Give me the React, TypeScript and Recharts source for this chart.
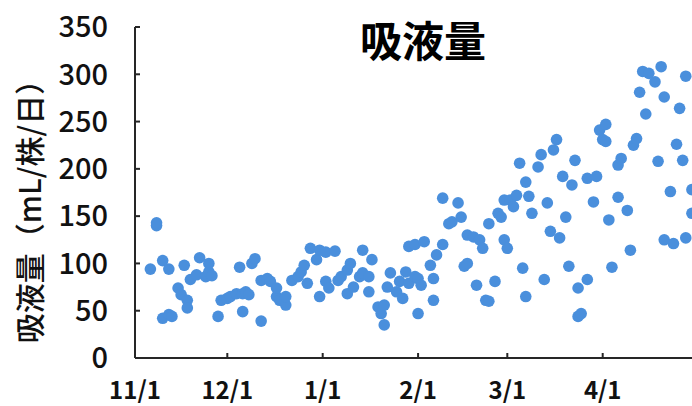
import React from 'react';
import { ScatterChart, Scatter, XAxis, YAxis } from 'recharts';

const dates = [
  '2019-11-06','2019-11-08','2019-11-08','2019-11-10','2019-11-10','2019-11-12','2019-11-12','2019-11-13','2019-11-15','2019-11-16','2019-11-17','2019-11-18','2019-11-18','2019-11-19','2019-11-21','2019-11-22','2019-11-24','2019-11-25','2019-11-25','2019-11-26','2019-11-28','2019-11-29',
  '2019-12-01','2019-12-02','2019-12-04','2019-12-05','2019-12-06','2019-12-06','2019-12-07','2019-12-08','2019-12-09','2019-12-10','2019-12-12','2019-12-12','2019-12-14','2019-12-15','2019-12-17','2019-12-17','2019-12-18','2019-12-20','2019-12-20','2019-12-22','2019-12-24','2019-12-25','2019-12-26','2019-12-27','2019-12-28','2019-12-30','2019-12-31','2019-12-31',
  '2020-01-02','2020-01-02','2020-01-03','2020-01-05','2020-01-06','2020-01-07','2020-01-09','2020-01-09','2020-01-10','2020-01-11','2020-01-13','2020-01-14','2020-01-14','2020-01-16','2020-01-16','2020-01-17','2020-01-19','2020-01-20','2020-01-21','2020-01-21','2020-01-22','2020-01-23','2020-01-25','2020-01-26','2020-01-27','2020-01-28','2020-01-29','2020-01-29','2020-01-31','2020-01-31',
  '2020-02-01','2020-02-01','2020-02-02','2020-02-03','2020-02-05','2020-02-06','2020-02-06','2020-02-07','2020-02-09','2020-02-09','2020-02-11','2020-02-12','2020-02-14','2020-02-15','2020-02-16','2020-02-17','2020-02-17','2020-02-19','2020-02-20','2020-02-21','2020-02-22','2020-02-23','2020-02-24','2020-02-24','2020-02-26','2020-02-27','2020-02-28','2020-02-29','2020-02-29',
  '2020-03-01','2020-03-02','2020-03-03','2020-03-04','2020-03-05','2020-03-06','2020-03-07','2020-03-07','2020-03-08','2020-03-09','2020-03-11','2020-03-12','2020-03-13','2020-03-14','2020-03-15','2020-03-16','2020-03-17','2020-03-18','2020-03-19','2020-03-20','2020-03-21','2020-03-22','2020-03-23','2020-03-24','2020-03-24','2020-03-25','2020-03-27','2020-03-27','2020-03-29','2020-03-30','2020-03-31',
  '2020-04-01','2020-04-02','2020-04-02','2020-04-03','2020-04-04','2020-04-06','2020-04-06','2020-04-07','2020-04-09','2020-04-10','2020-04-11','2020-04-12','2020-04-13','2020-04-14','2020-04-15','2020-04-16','2020-04-18','2020-04-19','2020-04-20','2020-04-21','2020-04-21','2020-04-23','2020-04-24','2020-04-25','2020-04-26','2020-04-27','2020-04-28','2020-04-28','2020-04-30','2020-04-30',
];

const values = [
  94,140,143,103,42,94,46,44,74,67,98,61,53,83,88,106,86,91,100,87,44,61,
  63,65,68,96,68,49,70,67,100,105,82,39,84,81,65,74,61,56,65,82,86,91,98,79,116,104,114,65,
  81,112,74,113,82,86,93,68,100,75,86,90,114,70,86,104,54,47,56,35,75,90,70,81,63,91,79,118,120,86,
  84,47,77,123,98,61,84,109,120,169,142,144,164,149,97,100,130,128,77,125,116,61,60,142,81,153,149,167,125,
  116,167,160,172,206,95,65,186,171,153,202,215,83,164,134,220,231,127,192,149,97,183,209,74,44,47,83,190,165,192,241,
  231,247,229,146,96,170,204,211,156,114,225,232,281,303,258,301,292,208,308,276,125,176,121,226,264,209,127,298,178,153,
];

const xTickDates = ['2019-11-01','2019-12-01','2020-01-01','2020-02-01','2020-03-01','2020-04-01'];
const xDomainDates = ['2019-11-01','2020-05-01'];
const yTicks = [0, 50, 100, 150, 200, 250, 300, 350];
const title = '吸液量';
const yLabel = '吸液量（mL/株/日）';

const toMs = (s: string) => Date.parse(s + 'T00:00:00Z');
const data = dates.map((d, i) => ({ x: toMs(d), y: values[i] }));
const xTicks = xTickDates.map(toMs);

const fmt = (ms: number) => {
  const d = new Date(ms);
  return `${d.getUTCMonth() + 1}/${d.getUTCDate()}`;
};

const FONT = '"Noto Sans CJK JP", "Noto Sans", sans-serif';
const AXIS = '#262626';
const DOT = '#4a8fdc';

const Dot = (props: any) => <circle cx={props.cx} cy={props.cy} r={5.8} fill={DOT} />;

export default function App() {
  return (
    <div style={{ position: 'absolute', left: 0, top: 0, width: 692, height: 406, overflow: 'hidden', background: '#fff' }}>
      <ScatterChart width={700} height={406} margin={{ top: 27, right: 5, bottom: 0, left: 0 }}>
        <XAxis
          type="number"
          dataKey="x"
          domain={[toMs(xDomainDates[0]), toMs(xDomainDates[1])]}
          ticks={xTicks}
          tickFormatter={fmt}
          interval={0}
          allowDataOverflow
          height={48}
          tickSize={-5}
          tickMargin={29}
          axisLine={{ stroke: AXIS, strokeWidth: 2 }}
          tickLine={{ stroke: AXIS, strokeWidth: 2 }}
          tick={{ fill: '#111', fontSize: 24, fontWeight: 700, fontFamily: FONT }}
        />
        <YAxis
          type="number"
          dataKey="y"
          domain={[0, 350]}
          ticks={yTicks}
          interval={0}
          width={135}
          tickSize={-5}
          tickMargin={32}
          axisLine={{ stroke: AXIS, strokeWidth: 2 }}
          tickLine={{ stroke: AXIS, strokeWidth: 2 }}
          tick={{ fill: '#111', fontSize: 29, fontWeight: 500, fontFamily: FONT }}
        />
        <Scatter data={data} shape={Dot} isAnimationActive={false} />
      </ScatterChart>
      <svg width={692} height={406} style={{ position: 'absolute', left: 0, top: 0, pointerEvents: 'none' }}>
        <text x={423} y={38} textAnchor="middle" dominantBaseline="central" fontSize={42} fontWeight={700} fontFamily={FONT} fill="#000">
          {title}
        </text>
        <text transform="translate(28,204) rotate(-90)" textAnchor="middle" dominantBaseline="central" fontSize={30} fontWeight={500} fontFamily={FONT} fill="#111">
          {yLabel}
        </text>
      </svg>
    </div>
  );
}
